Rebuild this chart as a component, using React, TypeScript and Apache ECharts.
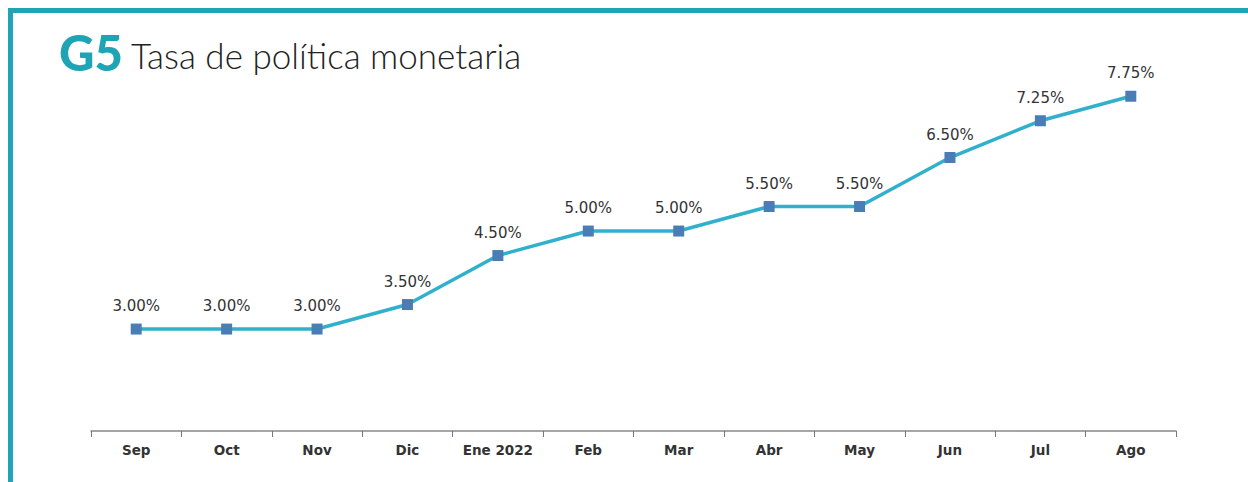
import React, { useEffect, useRef } from "react";
import * as echarts from "echarts";

const categories = ["Sep", "Oct", "Nov", "Dic", "Ene 2022", "Feb", "Mar", "Abr", "May", "Jun", "Jul", "Ago"];
const rates = [3.0, 3.0, 3.0, 3.5, 4.5, 5.0, 5.0, 5.5, 5.5, 6.5, 7.25, 7.75];
const titleCode = "G5";
const titleText = "Tasa de política monetaria";

export default function App() {
  const ref = useRef<HTMLDivElement>(null);
  useEffect(() => {
    if (!ref.current) return;
    const chart = echarts.init(ref.current, undefined, { renderer: "svg" });
    chart.setOption({
      animation: false,
      backgroundColor: "#ffffff",
      graphic: [
        { type: "rect", shape: { x: 8, y: 8, width: 1240, height: 5 }, style: { fill: "#1fa4b6" } },
        { type: "rect", shape: { x: 8, y: 8, width: 5, height: 474 }, style: { fill: "#1fa4b6" } },
        {
          type: "text",
          x: 59,
          y: 52,
          style: {
            text: titleCode,
            font: "900 49px Lato",
            fill: "#1fa4b6",
            verticalAlign: "middle",
          },
        },
        {
          type: "text",
          x: 131,
          y: 55,
          style: {
            text: titleText,
            font: "300 35px Lato",
            fill: "#222222",
            verticalAlign: "middle",
          },
        },
      ],
      grid: { left: 91, width: 1085, top: 84, height: 347 },
      xAxis: {
        type: "category",
        data: categories,
        boundaryGap: true,
        axisLine: { lineStyle: { color: "#888888", width: 1.5 } },
        axisTick: { show: true, interval: 0, length: 6, lineStyle: { color: "#777777" } },
        axisLabel: {
          interval: 0,
          margin: 12,
          fontFamily: "DejaVu Sans",
          fontWeight: "bold",
          fontSize: 13.5,
          color: "#333333",
        },
      },
      yAxis: {
        type: "value",
        min: 0.92,
        max: 8,
        show: false,
        splitLine: { show: false },
      },
      series: [
        {
          type: "line",
          data: rates,
          symbol: "rect",
          symbolSize: 11,
          lineStyle: { color: "#30b0cd", width: 3.5 },
          itemStyle: { color: "#4a7db6" },
          label: {
            show: true,
            position: "top",
            distance: 10,
            formatter: (p: any) => p.value.toFixed(2) + "%",
            fontFamily: "DejaVu Sans",
            fontSize: 15,
            color: "#333333",
          },
        },
      ],
    });
    return () => chart.dispose();
  }, []);
  return <div ref={ref} style={{ position: "fixed", left: 0, top: 0, width: 1248, height: 482 }} />;
}
